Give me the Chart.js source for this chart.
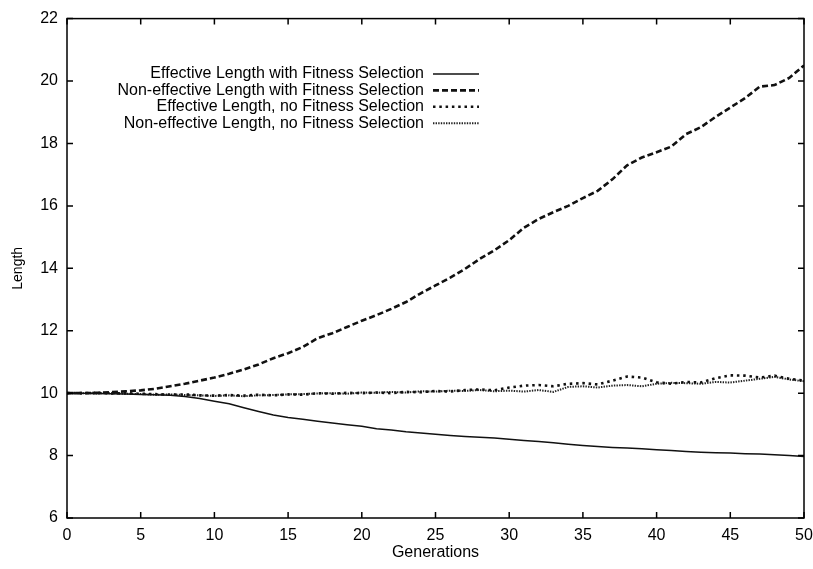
<!DOCTYPE html>
<html>
<head>
<meta charset="utf-8">
<script src="https://cdn.jsdelivr.net/npm/chart.js@4.4.1/dist/chart.umd.min.js"></script>
<style>
  html, body { margin: 0; padding: 0; background: #fff; }
  #wrap { width: 813px; height: 569px; }
</style>
</head>
<body>
<div id="wrap"><canvas id="c" width="813" height="569"></canvas></div>
<script>
// Generations 0..50
const generations = [];
for (let g = 0; g <= 50; g++) generations.push(g);

// Mean lengths per generation
const effWithSel = [10.00, 10.00, 9.99, 9.98, 9.97, 9.96, 9.95, 9.93, 9.89, 9.83,
  9.74, 9.66, 9.53, 9.41, 9.30, 9.22, 9.16, 9.10, 9.04, 8.99,
  8.94, 8.86, 8.82, 8.76, 8.72, 8.68, 8.64, 8.61, 8.59, 8.56,
  8.52, 8.48, 8.45, 8.41, 8.36, 8.32, 8.29, 8.26, 8.24, 8.22,
  8.19, 8.16, 8.13, 8.11, 8.09, 8.08, 8.06, 8.05, 8.03, 8.00, 7.97];

const nonEffWithSel = [10.00, 10.00, 10.01, 10.03, 10.06, 10.09, 10.14, 10.22, 10.30, 10.40,
  10.50, 10.62, 10.76, 10.92, 11.12, 11.28, 11.48, 11.76, 11.92, 12.12,
  12.32, 12.50, 12.70, 12.92, 13.20, 13.45, 13.70, 13.98, 14.30, 14.58,
  14.90, 15.30, 15.58, 15.80, 16.00, 16.25, 16.48, 16.85, 17.30, 17.55,
  17.72, 17.90, 18.30, 18.52, 18.85, 19.15, 19.45, 19.82, 19.87, 20.10, 20.50];

const effNoSel = [10.00, 10.00, 10.01, 9.99, 10.00, 9.98, 9.97, 9.95, 9.96, 9.93,
  9.92, 9.94, 9.92, 9.95, 9.93, 9.96, 9.95, 10.00, 9.98, 10.01,
  10.00, 10.02, 10.00, 10.04, 10.03, 10.07, 10.05, 10.10, 10.12, 10.09,
  10.18, 10.24, 10.26, 10.22, 10.30, 10.32, 10.28, 10.40, 10.53, 10.50,
  10.35, 10.30, 10.36, 10.34, 10.48, 10.57, 10.56, 10.50, 10.56, 10.46, 10.40];

const nonEffNoSel = [10.00, 10.00, 9.99, 10.00, 9.98, 9.97, 9.95, 9.96, 9.94, 9.93,
  9.91, 9.93, 9.90, 9.93, 9.94, 9.96, 9.97, 9.99, 10.00, 9.98,
  10.02, 10.01, 10.04, 10.02, 10.06, 10.05, 10.08, 10.07, 10.10, 10.06,
  10.08, 10.05, 10.10, 10.04, 10.20, 10.22, 10.18, 10.24, 10.26, 10.22,
  10.30, 10.33, 10.32, 10.30, 10.36, 10.34, 10.40, 10.46, 10.52, 10.44, 10.38];

const seriesLabels = [
  'Effective Length with Fitness Selection',
  'Non-effective Length with Fitness Selection',
  'Effective Length, no Fitness Selection',
  'Non-effective Length, no Fitness Selection'
];

const xTicks = [0, 5, 10, 15, 20, 25, 30, 35, 40, 45, 50];
const yTicks = [6, 8, 10, 12, 14, 16, 18, 20, 22];

const INK = '#000';
const FONT = "'Liberation Sans', Arial, Helvetica, sans-serif";

function pts(values) {
  return generations.map((g, i) => ({ x: g, y: values[i] }));
}

// Box border, inward ticks on all four sides, and a key at the upper left
const framePlugin = {
  id: 'frame',
  afterDatasetsDraw(chart) {
    const { ctx, chartArea: a, scales } = chart;
    ctx.save();
    ctx.strokeStyle = INK;
    ctx.lineWidth = 1.5;
    ctx.setLineDash([]);
    ctx.strokeRect(a.left, a.top, a.right - a.left, a.bottom - a.top);
    const len = 6;
    ctx.beginPath();
    xTicks.forEach(v => {
      const x = scales.x.getPixelForValue(v);
      ctx.moveTo(x, a.bottom); ctx.lineTo(x, a.bottom - len);
      ctx.moveTo(x, a.top); ctx.lineTo(x, a.top + len);
    });
    yTicks.forEach(v => {
      const y = scales.y.getPixelForValue(v);
      ctx.moveTo(a.left, y); ctx.lineTo(a.left + len, y);
      ctx.moveTo(a.right, y); ctx.lineTo(a.right - len, y);
    });
    ctx.stroke();

    // key
    const textRight = 424, sampleL = 433, sampleR = 479, top = 74, step = 16.4;
    ctx.font = '16px ' + FONT;
    ctx.fillStyle = INK;
    ctx.textAlign = 'right';
    ctx.textBaseline = 'middle';
    chart.data.datasets.forEach((ds, i) => {
      const y = top + step * i;
      ctx.fillText(ds.label, textRight, y);
      ctx.save();
      ctx.strokeStyle = ds.borderColor;
      ctx.lineWidth = ds.borderWidth;
      ctx.setLineDash(ds.borderDash || []);
      ctx.lineCap = 'butt';
      ctx.beginPath();
      ctx.moveTo(sampleL, y);
      ctx.lineTo(sampleR, y);
      ctx.stroke();
      ctx.restore();
    });
    ctx.restore();
  }
};

new Chart(document.getElementById('c'), {
  type: 'line',
  data: {
    datasets: [
      { label: seriesLabels[0], data: pts(effWithSel), borderColor: '#111', borderWidth: 1.5, borderDash: [] },
      { label: seriesLabels[1], data: pts(nonEffWithSel), borderColor: '#111', borderWidth: 2.6, borderDash: [6, 3] },
      { label: seriesLabels[2], data: pts(effNoSel), borderColor: '#111', borderWidth: 2.6, borderDash: [2.5, 3.8] },
      { label: seriesLabels[3], data: pts(nonEffNoSel), borderColor: '#222', borderWidth: 2, borderDash: [1.4, 1.2] }
    ]
  },
  options: {
    responsive: false,
    animation: false,
    events: [],
    layout: { padding: { top: 12, right: 9, left: 0, bottom: 0 } },
    elements: {
      point: { radius: 0 },
      line: { tension: 0, fill: false, borderCapStyle: 'butt' }
    },
    plugins: { legend: { display: false }, tooltip: { enabled: false } },
    scales: {
      x: {
        type: 'linear', min: 0, max: 50,
        afterBuildTicks: s => { s.ticks = xTicks.map(v => ({ value: v })); },
        afterFit: s => { s.height = 51; s.paddingLeft = 0; s.paddingRight = 0; },
        grid: { display: false, drawTicks: false },
        border: { display: false },
        ticks: { color: INK, padding: 8, maxRotation: 0, font: { family: FONT, size: 16 } },
        title: { display: true, text: 'Generations', color: INK, padding: { top: 0, bottom: 7 }, font: { family: FONT, size: 16 } }
      },
      y: {
        type: 'linear', min: 6, max: 22,
        afterBuildTicks: s => { s.ticks = yTicks.map(v => ({ value: v })); },
        afterFit: s => { s.width = 67; },
        grid: { display: false, drawTicks: false },
        border: { display: false },
        ticks: { color: INK, padding: 9, font: { family: FONT, size: 16 } },
        title: { display: true, text: 'Length', color: INK, padding: { top: 10, bottom: 0 }, font: { family: FONT, size: 14 } }
      }
    }
  },
  plugins: [framePlugin]
});
</script>
</body>
</html>
